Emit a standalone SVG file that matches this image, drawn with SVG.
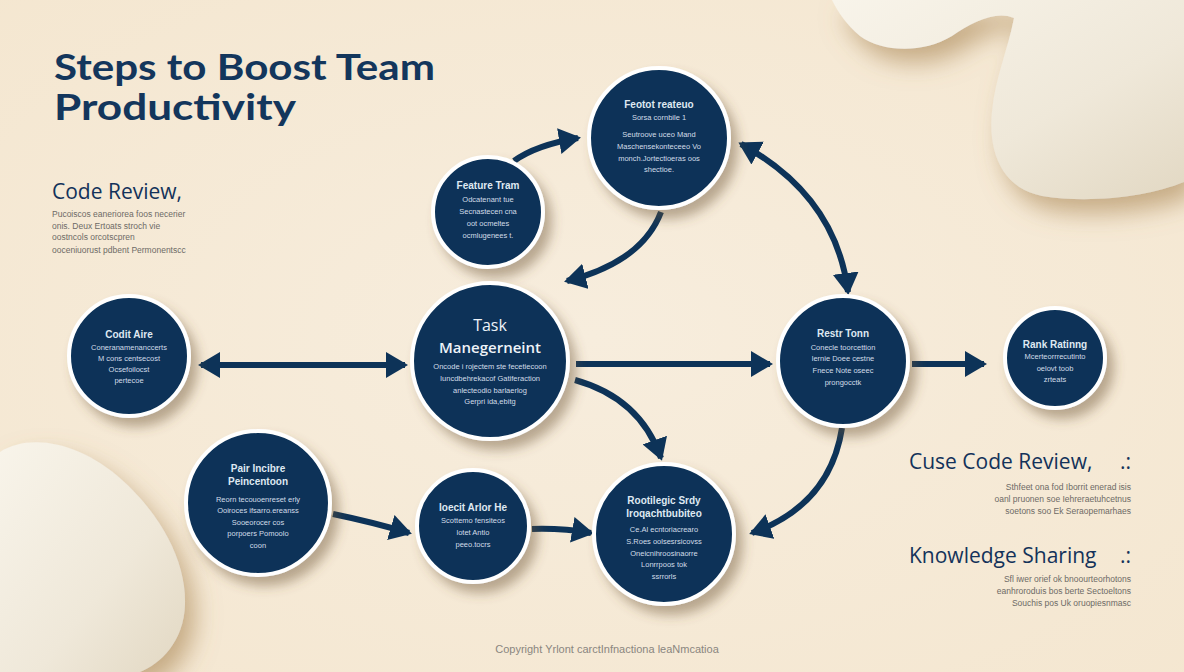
<svg xmlns="http://www.w3.org/2000/svg" width="1184" height="672" viewBox="0 0 1184 672">
<defs>
<radialGradient id="bg" cx="0.5" cy="0.5" r="0.8">
<stop offset="0" stop-color="#f7eddd"/>
<stop offset="1" stop-color="#f4e6cf"/>
</radialGradient>
<linearGradient id="blob" x1="0" y1="0" x2="1" y2="1">
<stop offset="0" stop-color="#f8f4ea"/>
<stop offset="0.6" stop-color="#efe8d9"/>
<stop offset="1" stop-color="#e2d8c3"/>
</linearGradient>
<filter id="sh" x="-30%" y="-30%" width="170%" height="170%">
<feDropShadow dx="7" dy="9" stdDeviation="6" flood-color="#6b5432" flood-opacity="0.45"/>
</filter>
<filter id="bsh" x="-30%" y="-30%" width="170%" height="170%">
<feDropShadow dx="10" dy="14" stdDeviation="12" flood-color="#a07a45" flood-opacity="0.55"/>
</filter>
<marker id="ah" viewBox="0 0 22 26" markerWidth="22" markerHeight="26" refX="19" refY="13" orient="auto-start-reverse" markerUnits="userSpaceOnUse">
<path d="M0,0 L22,13 L0,26 z" fill="#0d3358"/>
</marker>
<style>
.node{fill:#0d3358;stroke:#ffffff;stroke-width:4;filter:url(#sh)}
.ttl{font-family:"Liberation Sans",Arial,sans-serif;font-size:10px;font-weight:bold;fill:#dfe9f2;text-anchor:middle}
.bd{font-family:"Liberation Sans",Arial,sans-serif;font-size:7.5px;fill:#d2dde8;text-anchor:middle}
.con{fill:none;stroke:#0d3358;stroke-width:6}
.h2{font-family:"Open Sans","Liberation Sans",sans-serif;font-size:21px;fill:#13325a}
.gr{font-family:"Liberation Sans",Arial,sans-serif;font-size:8.5px;fill:#6d6a66}
</style>
</defs>
<rect width="1184" height="672" fill="url(#bg)"/>
<g id="blob-top-right" filter="url(#bsh)">
<path d="M 832 0 L 1184 0 L 1184 182 C 1150 196 1092 204 1042 196 C 1002 188 988 152 992 112 C 995 78 1008 50 1014 18 C 996 10 972 22 952 36 C 922 54 882 52 860 36 C 846 24 838 12 832 0 Z" fill="url(#blob)"/>
</g>
<g id="blob-bottom-left" filter="url(#bsh)">
<path d="M 0 452 C 32 432 82 444 122 480 C 162 516 186 562 185 604 C 184 642 160 664 140 672 L 0 672 Z" fill="url(#blob)"/>
</g>
<g id="title">
<text x="54" y="80" font-family="Lato,'Liberation Sans',sans-serif" font-size="36" font-weight="bold" fill="#13365c" textLength="381" lengthAdjust="spacingAndGlyphs">Steps to Boost Team</text>
<text x="54" y="120" font-family="Lato,'Liberation Sans',sans-serif" font-size="36" font-weight="bold" fill="#13365c" textLength="242" lengthAdjust="spacingAndGlyphs">Productivity</text>
</g>
<g id="side-left">
<text class="h2" x="52" y="199">Code Review,</text>
<text class="gr" x="52" y="217">Pucoiscos eaneriorea foos necerier</text>
<text class="gr" x="52" y="229">onis. Deux Ertoats stroch vie</text>
<text class="gr" x="52" y="240">oostncols orcotscpren</text>
<text class="gr" x="52" y="253">ooceniuorust pdbent Permonentscc</text>
</g>
<g id="side-right">
<text class="h2" x="909" y="469">Cuse Code Review,</text>
<text class="h2" x="1120" y="469">.:</text>
<text class="gr" x="1131" y="490" text-anchor="end">Sthfeet ona fod Iborrit enerad isis</text>
<text class="gr" x="1131" y="502" text-anchor="end">oanl pruonen soe Iehreraetuhcetnus</text>
<text class="gr" x="1131" y="514" text-anchor="end">soetons soo Ek Seraopemarhaes</text>
<text class="h2" x="909" y="563">Knowledge Sharing</text>
<text class="h2" x="1120" y="563">.:</text>
<text class="gr" x="1131" y="582" text-anchor="end">Sfl iwer orief ok bnoourteorhotons</text>
<text class="gr" x="1131" y="594" text-anchor="end">eanhroroduis bos berte Sectoeltons</text>
<text class="gr" x="1131" y="606" text-anchor="end">Souchis pos Uk oruopiesnmasc</text>
</g>
<g id="connectors">
<path class="con" d="M 514 161 Q 536 145 578 138" marker-end="url(#ah)"/>
<path class="con" d="M 661 212 Q 642 262 567 281" marker-end="url(#ah)"/>
<path class="con" d="M 741 144 Q 836 196 848 292" marker-start="url(#ah)" marker-end="url(#ah)"/>
<path class="con" d="M 201 365 L 405 365" marker-start="url(#ah)" marker-end="url(#ah)"/>
<path class="con" d="M 576 364 L 770 364" marker-end="url(#ah)"/>
<path class="con" d="M 575 380 Q 640 398 661 458" marker-end="url(#ah)"/>
<path class="con" d="M 912 364 L 984 364" marker-end="url(#ah)"/>
<path class="con" d="M 842 428 Q 830 505 752 533" marker-end="url(#ah)"/>
<path class="con" d="M 333 514 Q 372 522 409 533" marker-end="url(#ah)"/>
<path class="con" d="M 532 529 Q 562 528 591 533" marker-end="url(#ah)"/>
</g>
<g id="node-top">
<circle class="node" cx="659" cy="138" r="70"/>
<text class="ttl" x="659" y="108">Feotot reateuo</text>
<text class="bd" x="659" y="120" font-size="8.5">Sorsa cornbile 1</text>
<text class="bd" x="659" y="137">Seutroove uceo Mand</text>
<text class="bd" x="659" y="149">Maschensekonteceeo Vo</text>
<text class="bd" x="659" y="161">monch.Jortectioeras oos</text>
<text class="bd" x="659" y="172">shectioe.</text>
</g>
<g id="node-feature-team">
<circle class="node" cx="488" cy="212" r="55"/>
<text class="ttl" x="488" y="189">Feature Tram</text>
<text class="bd" x="488" y="202">Odcatenant tue</text>
<text class="bd" x="488" y="214">Secnastecen cna</text>
<text class="bd" x="488" y="226">oot ocmeltes</text>
<text class="bd" x="488" y="238">ocmlugenees t.</text>
</g>
<g id="node-task">
<circle class="node" cx="490" cy="361" r="78"/>
<text x="490" y="331" font-family="'Open Sans','Liberation Sans',sans-serif" font-size="16" fill="#eef3f8" text-anchor="middle">Task</text>
<text x="490" y="353" font-family="'Open Sans','Liberation Sans',sans-serif" font-size="15" font-weight="600" fill="#eef3f8" text-anchor="middle">Manegerneint</text>
<text class="bd" x="490" y="369">Oncode i rojectem ste fecetiecoon</text>
<text class="bd" x="490" y="381">Iuncdbehrekacof Gatiferaction</text>
<text class="bd" x="490" y="393">anlecteodio barlaerlog</text>
<text class="bd" x="490" y="404">Gerpri ida,ebitg</text>
</g>
<g id="node-left">
<circle class="node" cx="129" cy="356" r="60"/>
<text class="ttl" x="129" y="338" font-size="9">Codit Aire</text>
<text class="bd" x="129" y="350">Coneranamenanccerts</text>
<text class="bd" x="129" y="361">M cons centsecost</text>
<text class="bd" x="129" y="372">Ocsefoilocst</text>
<text class="bd" x="129" y="383">pertecoe</text>
</g>
<g id="node-rest-team">
<circle class="node" cx="843" cy="361" r="65"/>
<text class="ttl" x="843" y="337" font-size="9.5">Restr Tonn</text>
<text class="bd" x="843" y="350">Conecle toorcettion</text>
<text class="bd" x="843" y="361">lernie Doee cestne</text>
<text class="bd" x="843" y="373">Fnece Note oseec</text>
<text class="bd" x="843" y="385">prongocctk</text>
</g>
<g id="node-rank">
<circle class="node" cx="1055" cy="358" r="50"/>
<text class="ttl" x="1055" y="348" font-size="9.5">Rank Ratinng</text>
<text class="bd" x="1055" y="359">Mcerteorrrecutinto</text>
<text class="bd" x="1055" y="371">oelovt toob</text>
<text class="bd" x="1055" y="382">zrteats</text>
</g>
<g id="node-pair">
<circle class="node" cx="258" cy="503" r="72"/>
<text class="ttl" x="258" y="472">Pair Incibre</text>
<text class="ttl" x="258" y="485">Peincentoon</text>
<text class="bd" x="258" y="502">Reorn tecouoenreset erly</text>
<text class="bd" x="258" y="513">Ooiroces ifsarro.ereanss</text>
<text class="bd" x="258" y="525">Sooeorocer cos</text>
<text class="bd" x="258" y="536">porpoers Pomoolo</text>
<text class="bd" x="258" y="548">coon</text>
</g>
<g id="node-mid">
<circle class="node" cx="473" cy="526" r="56"/>
<text class="ttl" x="473" y="511">Ioecit Arlor He</text>
<text class="bd" x="473" y="523">Scottemo fensiteos</text>
<text class="bd" x="473" y="535">lotet Antio</text>
<text class="bd" x="473" y="547">peeo.tocrs</text>
</g>
<g id="node-bottom-right">
<circle class="node" cx="664" cy="534" r="70"/>
<text class="ttl" x="664" y="504">Rootilegic Srdy</text>
<text class="ttl" x="664" y="517">Iroqachtbubiteo</text>
<text class="bd" x="664" y="532">Ce.Al ecntoriacrearo</text>
<text class="bd" x="664" y="544">S.Roes oolsesrsicovss</text>
<text class="bd" x="664" y="556">Oneicnihroosinaorre</text>
<text class="bd" x="664" y="567">Lonrrpoos tok</text>
<text class="bd" x="664" y="579">ssrrorls</text>
</g>
<g id="footer">
<text x="607" y="653" font-family="'Liberation Sans',Arial,sans-serif" font-size="11" fill="#8a8680" text-anchor="middle">Copyright Yrlont carctInfnactiona leaNmcatioa</text>
</g>
</svg>
